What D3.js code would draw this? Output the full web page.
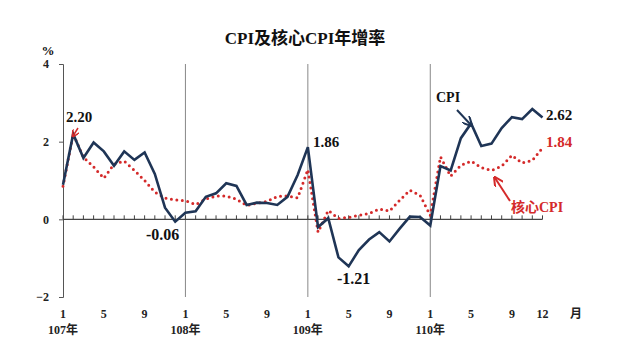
<!DOCTYPE html>
<html><head><meta charset="utf-8">
<script src="https://cdn.jsdelivr.net/npm/d3@7"></script>
<style>
body{margin:0;background:#fff;}
text{font-family:"Liberation Serif","Noto Sans CJK TC",serif;font-weight:bold;}
</style></head>
<body><svg id="c" width="640" height="360"></svg>
<script>
const years = ["107年","108年","109年","110年"];
const monthTicks = [1,5,9];
const yTicks = [-2,0,2,4];
const cpi = [0.89,2.20,1.58,1.98,1.75,1.38,1.75,1.53,1.72,1.17,0.30,-0.06,
             0.17,0.21,0.58,0.67,0.93,0.86,0.37,0.43,0.42,0.37,0.58,1.14,
             1.86,-0.20,0.03,-0.98,-1.21,-0.79,-0.52,-0.33,-0.57,-0.24,0.07,0.06,
             -0.16,1.37,1.26,2.09,2.47,1.89,1.95,2.35,2.63,2.58,2.84,2.62];
const core = [0.85,2.20,1.60,1.35,1.06,1.42,1.50,1.26,1.00,0.70,0.55,0.50,
              0.48,0.38,0.52,0.60,0.60,0.52,0.36,0.41,0.46,0.59,0.60,0.55,
              1.28,-0.33,0.23,0.02,0.05,0.10,0.15,0.27,0.21,0.49,0.75,0.62,
              0.10,1.61,1.11,1.39,1.50,1.33,1.26,1.37,1.65,1.45,1.52,1.84];

const svg = d3.select("#c");
const x = d3.scaleLinear().domain([0,47]).range([63,542.5]);
const y = d3.scaleLinear().domain([-2,4]).range([297,64]);
const navy = "#1f3556", red = "#d42a2a";

// title
svg.append("text").attr("x",305).attr("y",44).attr("text-anchor","middle")
  .attr("font-size",17).attr("fill","#111").text("CPI及核心CPI年增率");
svg.append("text").attr("x",48).attr("y",55).attr("text-anchor","middle")
  .attr("font-size",13).attr("fill","#111").text("%");

// y axis
const yAxis = d3.axisLeft(y).tickValues(yTicks).tickSize(4).tickFormat(d3.format("d"));
const ga = svg.append("g").attr("transform",`translate(${x(0)},0)`).call(yAxis);
ga.select(".domain").attr("stroke","#555");
ga.selectAll(".tick line").attr("stroke","#555");
ga.selectAll("text").attr("font-size",12).attr("fill","#222").attr("x",-14)
  .style("font-family","Liberation Serif").style("font-weight","bold");

// vertical year lines
svg.selectAll(".yl").data([12,24,36]).enter().append("line")
  .attr("x1",d=>x(d)).attr("x2",d=>x(d)).attr("y1",y(4)).attr("y2",y(-2))
  .attr("stroke","#888").attr("stroke-width",1);

// zero line with month ticks
svg.append("line").attr("x1",x(0)).attr("x2",x(47)).attr("y1",y(0)).attr("y2",y(0))
  .attr("stroke","#444").attr("stroke-width",1.2);
svg.selectAll(".mt").data(d3.range(48)).enter().append("line")
  .attr("x1",d=>x(d)).attr("x2",d=>x(d)).attr("y1",y(0)).attr("y2",y(0)-4)
  .attr("stroke","#444").attr("stroke-width",1);

// x labels
const xl = [];
years.forEach((yr,i)=>monthTicks.forEach(m=>xl.push({i:i*12+m-1,t:String(m)})));
xl.push({i:47,t:"12"});
svg.selectAll(".xl").data(xl).enter().append("text")
  .attr("x",d=>x(d.i)).attr("y",318).attr("text-anchor","middle")
  .attr("font-size",12).attr("fill","#222").text(d=>d.t);
svg.append("text").attr("x",576).attr("y",318).attr("text-anchor","middle")
  .attr("font-size",12).attr("fill","#222").text("月");
svg.selectAll(".yr").data(years).enter().append("text")
  .attr("x",(d,i)=>x(i*12)).attr("y",334).attr("text-anchor","middle")
  .attr("font-size",12).attr("fill","#222").text(d=>d);

// lines
const line = d3.line().x((d,i)=>x(i)).y(d=>y(d));
svg.append("path").datum(core).attr("d",line).attr("fill","none")
  .attr("stroke",red).attr("stroke-width",3).attr("stroke-linecap","round")
  .attr("stroke-dasharray","0 5.5");
svg.append("path").datum(cpi).attr("d",line).attr("fill","none")
  .attr("stroke",navy).attr("stroke-width",2.6).attr("stroke-linejoin","miter");

// annotations
function lab(t,xx,yy,col,size){svg.append("text").attr("x",xx).attr("y",yy)
  .attr("font-size",size||15).attr("fill",col||"#111").text(t);}
lab("2.20",66,122);
lab("-0.06",146,240,"#111",16);
lab("1.86",313,147);
lab("-1.21",337,284,"#111",16);
lab("CPI",436,102,"#111",14);
lab("2.62",546,120);
lab("1.84",546,147,red);
lab("核心CPI",511,212,red,14);

// arrows
const defs = svg.append("defs");
function marker(id,col){defs.append("marker").attr("id",id).attr("viewBox","0 0 10 10")
  .attr("refX",8).attr("refY",5).attr("markerWidth",5).attr("markerHeight",5).attr("orient","auto")
  .append("path").attr("d","M0,0 L10,5 L0,10").attr("fill","none").attr("stroke",col).attr("stroke-width",2);}
marker("an",navy); marker("ar",red);
svg.append("line").attr("x1",457).attr("y1",110).attr("x2",471).attr("y2",125)
  .attr("stroke",navy).attr("stroke-width",2).attr("marker-end","url(#an)");
svg.append("line").attr("x1",510).attr("y1",201).attr("x2",495).attr("y2",178)
  .attr("stroke",red).attr("stroke-width",2).attr("marker-end","url(#ar)");
svg.append("line").attr("x1",78).attr("y1",128).attr("x2",73).attr("y2",136)
  .attr("stroke",red).attr("stroke-width",1.5).attr("marker-end","url(#ar)");
</script></body></html>
